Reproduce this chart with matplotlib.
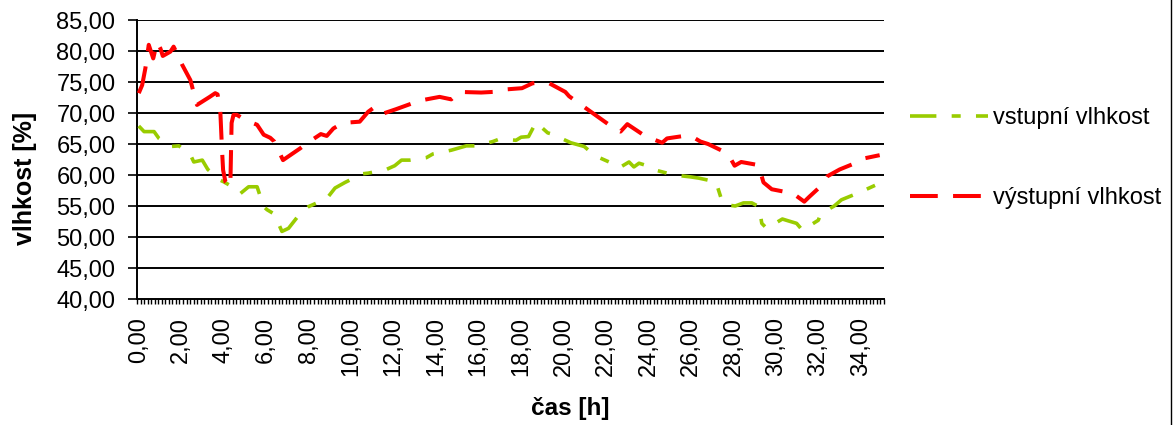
import matplotlib
matplotlib.use("Agg")
import matplotlib.pyplot as plt
import numpy as np

plt.rcParams['font.family'] = ['Liberation Sans', 'DejaVu Sans']
plt.rcParams['lines.scale_dashes'] = False

# time in hours and relative humidity in %
hours_in = [0.00, 0.25, 0.72, 0.95, 1.50, 1.89, 2.44, 2.59, 2.99, 3.25,
            3.81, 4.00, 4.66, 4.78, 5.17, 5.57, 5.88, 6.04, 6.38, 6.74,
            7.05, 7.60, 7.99, 8.85, 9.24, 9.71, 10.54, 10.80, 11.66, 12.05,
            12.37, 12.76, 13.54, 13.85, 14.71, 15.42, 15.92, 16.67, 16.98, 17.76,
            18.00, 18.35, 18.70, 19.25, 19.45, 20.34, 20.97, 21.48, 22.34, 22.64,
            23.08, 23.31, 23.55, 23.83, 24.20, 24.87, 25.19, 25.97, 26.36, 27.17,
            27.42, 27.61, 28.08, 28.47, 28.86, 29.20, 29.33, 29.56, 30.30, 30.58,
            30.97, 31.24, 31.99, 32.11, 32.74, 33.08, 33.94, 34.77]
humidity_in = [67.9, 67.0, 67.0, 65.9, 64.6, 64.7, 63.2, 62.1, 62.4, 60.9,
               59.2, 58.9, 57.6, 57.0, 58.1, 58.1, 54.9, 54.4, 53.7, 50.9,
               51.4, 53.8, 54.9, 56.2, 57.9, 58.8, 60.2, 60.3, 60.9, 61.5,
               62.4, 62.4, 62.8, 63.4, 64.0, 64.7, 64.7, 65.4, 65.8, 65.6,
               66.1, 66.2, 68.5, 66.8, 66.6, 65.2, 64.6, 63.1, 61.8, 61.2,
               62.1, 61.3, 61.9, 61.6, 60.9, 60.3, 60.0, 59.7, 59.5, 58.9,
               56.2, 55.2, 55.0, 55.5, 55.5, 54.9, 52.2, 51.4, 52.9, 52.6,
               52.2, 51.1, 52.7, 53.8, 55.0, 56.0, 57.2, 58.5]

hours_out = [0.00, 0.16, 0.31, 0.47, 0.68, 0.86, 1.02, 1.13, 1.49, 1.64,
             1.80, 2.04, 2.43, 2.74, 3.34, 3.60, 3.71, 3.84, 3.92, 3.97,
             4.08, 4.31, 4.37, 4.46, 4.62, 5.00, 5.57, 5.88, 6.19, 6.38,
             6.79, 7.13, 7.60, 7.91, 8.57, 8.85, 9.16, 9.60, 10.40, 10.80,
             11.04, 11.32, 12.10, 13.23, 14.16, 14.71, 15.10, 16.12, 16.67, 17.26,
             18.04, 18.54, 19.01, 19.32, 20.08, 20.26, 21.20, 22.10, 22.29, 22.68,
             23.00, 23.83, 24.64, 24.87, 25.66, 26.05, 26.44, 26.80, 27.53, 27.77,
             28.05, 28.36, 29.17, 29.41, 29.80, 30.55, 30.89, 31.33, 31.57, 32.11,
             32.42, 33.00, 33.86, 34.18, 34.88]
humidity_out = [73.2, 74.5, 77.2, 81.0, 78.8, 81.4, 80.4, 79.2, 79.9, 80.7,
                79.6, 77.8, 75.3, 71.3, 72.6, 73.2, 73.0, 70.2, 64.0, 60.8,
                58.9, 58.1, 68.4, 69.7, 69.7, 68.9, 68.1, 66.5, 66.0, 65.4,
                62.4, 63.2, 64.3, 65.1, 66.6, 66.3, 67.5, 68.4, 68.6, 70.2,
                70.8, 69.7, 70.6, 72.0, 72.6, 72.2, 73.4, 73.3, 73.4, 73.8,
                74.0, 74.8, 74.9, 74.8, 73.4, 72.7, 70.4, 68.2, 67.5, 67.0,
                68.2, 66.3, 65.2, 65.9, 66.3, 66.2, 65.4, 65.0, 63.8, 63.2,
                61.5, 62.1, 61.6, 58.8, 57.7, 57.2, 56.8, 55.7, 56.5, 58.2,
                59.8, 60.9, 62.1, 62.7, 63.2]

x_ticks = [0, 2, 4, 6, 8, 10, 12, 14, 16, 18, 20, 22, 24, 26, 28, 30, 32, 34]
x_tick_labels = ["0,00", "2,00", "4,00", "6,00", "8,00", "10,00", "12,00",
                 "14,00", "16,00", "18,00", "20,00", "22,00", "24,00",
                 "26,00", "28,00", "30,00", "32,00", "34,00"]
y_ticks = [40, 45, 50, 55, 60, 65, 70, 75, 80, 85]
y_tick_labels = ["40,00", "45,00", "50,00", "55,00", "60,00", "65,00",
                 "70,00", "75,00", "80,00", "85,00"]

label_in = "vstupní vlhkost"
label_out = "výstupní vlhkost"
color_in = "#99CC00"
color_out = "#FF0000"

W, H = 1173, 425
fig = plt.figure(figsize=(W / 100, H / 100), dpi=100)
ax = fig.add_axes([137 / W, (H - 299) / H, 747 / W, 279 / H])

step = 1 / 6  # one category every 10 minutes
ax.set_xlim(-step / 2, 35 + step / 2)
ax.set_ylim(40, 85)

line_in, = ax.plot(hours_in, humidity_in, color=color_in, lw=2.6,
                   dash_capstyle='butt', solid_capstyle='butt', zorder=3)
line_in.set_dashes((19, 11, 6.5, 11))
line_out, = ax.plot(hours_out, humidity_out, color=color_out, lw=2.9,
                    dash_capstyle='butt', solid_capstyle='butt', zorder=4)
line_out.set_dashes((20, 11))

# horizontal gridlines
for yv in y_ticks[1:]:
    ax.axhline(yv, color='black', lw=1.4, zorder=1)

for s in ['top', 'right']:
    ax.spines[s].set_visible(False)
for s in ['left', 'bottom']:
    ax.spines[s].set_linewidth(1.4)
    ax.spines[s].set_zorder(2)

ax.set_yticks(y_ticks)
ax.set_yticklabels(y_tick_labels, fontsize=17)
ax.tick_params(axis='y', direction='out', length=6.5, width=1.2, pad=9)

ax.set_xticks(x_ticks)
ax.set_xticklabels(x_tick_labels, rotation=90, fontsize=17)
ax.set_xticks(np.arange(-step / 2, 35 + step, step), minor=True)
ax.tick_params(axis='x', which='major', length=0, pad=13)
ax.tick_params(axis='x', which='minor', direction='out', length=3.5, width=1.0)

fig.text(25 / W, 1 - 178 / H, "vlhkost [%]", rotation=90, fontsize=18,
         fontweight='bold', ha='center', va='center')
fig.text(570 / W, 1 - 408 / H, "čas [h]", fontsize=17.5,
         fontweight='bold', ha='center', va='center')

leg = ax.legend([line_in, line_out], [label_in, label_out],
                loc='center left', bbox_to_anchor=(910 / W, 1 - 158 / H),
                bbox_transform=fig.transFigure, frameon=False, fontsize=17,
                handlelength=3.3, handletextpad=0.2, labelspacing=2.45,
                borderpad=0, borderaxespad=0)

# chart border on the right
fig.add_artist(plt.Line2D([1170.5 / W, 1170.5 / W], [0, 1], color='black',
                          lw=1.0, transform=fig.transFigure))

fig.savefig("out.png", dpi=100)
